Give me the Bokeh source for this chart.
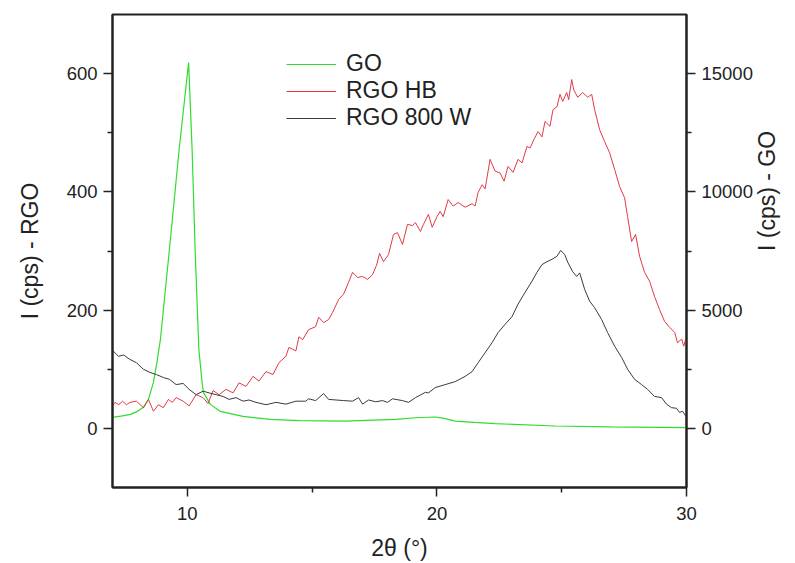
import math
from bokeh.plotting import figure
from bokeh.models import Range1d, LinearAxis, FixedTicker, Legend, LegendItem
from bokeh.embed import file_html
from bokeh.resources import INLINE

# ---------------- data ----------------
go_x = [7.0, 7.4, 7.72, 8.0, 8.24, 8.44, 8.64, 8.78, 8.92, 9.28, 9.67, 10.05, 10.19, 10.31,
        10.46, 10.59, 10.64, 10.92, 11.31, 12.23, 13.31, 14.5, 16.34, 18.34, 19.14, 19.93,
        20.3, 20.73, 21.5, 22.33, 24.72, 27.0, 30.0]
go_y = [465, 530, 590, 720, 890, 1225, 1945, 2790, 3760, 7565, 11790, 15470, 11790, 7565,
        3340, 1945, 1520, 1015, 720, 505, 380, 330, 310, 380, 450, 480,
        420, 310, 250, 200, 100, 60, 30]

hb_x = [7.0, 7.1, 7.25, 7.4, 7.56, 7.7, 7.96, 8.24, 8.44, 8.64, 8.84, 9.04, 9.24, 9.4, 9.55,
        9.83, 10.07, 10.35, 10.63, 10.83, 11.03, 11.27, 11.55, 11.83, 12.07, 12.35, 12.63,
        12.87, 13.15, 13.43, 13.67, 13.95, 14.07, 14.35, 14.47, 14.62, 14.86, 15.14, 15.26,
        15.46, 15.66, 15.82, 16.06, 16.26, 16.46, 16.62, 16.82, 17.02, 17.22, 17.42, 17.58,
        17.70, 17.86, 18.06, 18.26, 18.42, 18.62, 18.82, 19.02, 19.14, 19.34, 19.46, 19.66,
        19.81, 20.0, 20.13, 20.25, 20.45, 20.65, 20.85, 21.13, 21.41, 21.53, 21.65, 21.81,
        21.93, 22.13, 22.33, 22.53, 22.69, 22.85, 23.05, 23.25, 23.41, 23.61, 23.73, 23.89,
        24.05, 24.21, 24.33, 24.53, 24.65, 24.81, 24.93, 25.04, 25.20, 25.28, 25.40, 25.48,
        25.64, 25.84, 26.04, 26.20, 26.32, 26.52, 26.72, 26.92, 27.12, 27.32, 27.52, 27.64,
        27.80, 27.96, 28.12, 28.32, 28.52, 28.72, 28.92, 29.12, 29.32, 29.53, 29.64, 29.81,
        29.89, 30.0]
hb_y = [38, 44, 40, 46, 40, 44, 46, 35, 49, 29, 40, 35, 49, 44, 52,
        46, 38, 57, 52, 42, 64, 57, 66, 60, 77, 71, 88,
        80, 96, 91, 111, 122, 137, 131, 155, 150, 167, 172, 188,
        179, 184, 196, 218, 227, 247, 264, 255, 257, 252, 260, 276,
        296, 282, 294, 328, 331, 311, 345, 343, 348, 333, 345, 362,
        340, 358, 367, 358, 387, 376, 382, 374, 380, 376, 399, 412,
        405, 455, 435, 432, 418, 443, 433, 455, 449, 477, 474, 489,
        502, 493, 519, 511, 539, 544, 565, 553, 568, 556, 590, 573,
        560, 568, 560, 565, 539, 505, 485, 466, 438, 409, 390, 358,
        316, 328, 291, 264, 249, 223, 201, 181, 171, 162, 145, 151,
        139, 156]

w8_x = [7.0, 7.24, 7.45, 7.68, 7.96, 8.24, 8.48, 8.76, 9.04, 9.28, 9.55, 9.83, 10.07, 10.35,
        10.63, 10.87, 11.15, 11.43, 11.67, 11.95, 12.23, 12.47, 12.75, 13.15, 13.55, 13.95,
        14.35, 14.74, 14.86, 15.14, 15.46, 15.66, 16.26, 16.62, 16.86, 17.02, 17.26, 17.54,
        17.82, 18.02, 18.22, 18.62, 18.86, 19.14, 19.54, 19.66, 19.93, 20.33, 20.73, 21.13,
        21.41, 21.65, 21.93, 22.21, 22.45, 22.73, 23.01, 23.25, 23.53, 23.81, 24.01, 24.21,
        24.41, 24.61, 24.81, 24.96, 25.12, 25.24, 25.44, 25.60, 25.72, 25.92, 26.12, 26.32,
        26.60, 26.84, 27.12, 27.40, 27.64, 27.92, 28.20, 28.44, 28.72, 29.00, 29.20, 29.40,
        29.60, 29.72, 29.84, 30.0]
w8_y = [132, 122, 124, 117, 111, 100, 95, 91, 86, 83, 74, 76, 66, 57,
        63, 60, 57, 54, 49, 52, 46, 48, 44, 40, 44, 41,
        46, 46, 50, 47, 59, 49, 47, 46, 52, 41, 48, 45,
        47, 44, 50, 47, 44, 52, 61, 60, 69, 74, 79, 88,
        96, 111, 128, 145, 162, 176, 189, 210, 230, 249, 264, 277,
        282, 286, 291, 301, 294, 281, 265, 257, 263, 235, 215, 204,
        184, 162, 139, 120, 100, 83, 74, 66, 54, 52, 41, 35,
        34, 27, 29, 19]

x_ticks = [10, 20, 30]
x_minor = [15, 25]
left_ticks = [0, 200, 400, 600]
left_minor = [100, 300, 500]
right_ticks = [0, 5000, 10000, 15000]
right_minor = [2500, 7500, 12500]

FONT = "Liberation Sans"
AXC = "#222222"

p = figure(width=795, height=563, output_backend="svg", toolbar_location=None,
           x_range=Range1d(7, 30), y_range=Range1d(-100, 700))
p.min_border_left = 112
p.min_border_right = 102
p.min_border_top = 14
p.min_border_bottom = 75
p.xgrid.visible = False
p.ygrid.visible = False
p.outline_line_color = AXC
p.outline_line_width = 2
p.background_fill_color = "white"
p.border_fill_color = "white"

p.extra_y_ranges = {"go": Range1d(-2500, 17500)}
raxis = LinearAxis(y_range_name="go")
p.add_layout(raxis, "right")

r_go = p.line(go_x, go_y, y_range_name="go", line_color="#2fdc2f", line_width=1.2)
r_hb = p.line(hb_x, hb_y, line_color="#e23a45", line_width=1.0)
r_w8 = p.line(w8_x, w8_y, line_color="#3a3a3a", line_width=1.0)

for ax in [p.xaxis[0], p.yaxis[0], raxis]:
    ax.axis_line_width = 2
    ax.axis_line_color = AXC
    ax.major_tick_line_color = AXC
    ax.minor_tick_line_color = AXC
    ax.major_tick_line_width = 1.5
    ax.minor_tick_line_width = 1.5
    ax.major_tick_in = 0
    ax.major_tick_out = 9
    ax.minor_tick_in = 0
    ax.minor_tick_out = 5
    ax.major_label_text_font = FONT
    ax.major_label_text_font_size = "18.5px"
    ax.major_label_text_color = AXC
    ax.axis_label_text_font = FONT
    ax.axis_label_text_font_size = "23px"
    ax.axis_label_text_font_style = "normal"
    ax.axis_label_text_color = AXC
    ax.major_label_standoff = 6

p.xaxis[0].ticker = FixedTicker(ticks=x_ticks, minor_ticks=x_minor)
p.yaxis[0].ticker = FixedTicker(ticks=left_ticks, minor_ticks=left_minor)
raxis.ticker = FixedTicker(ticks=right_ticks, minor_ticks=right_minor)

p.xaxis[0].axis_label = "2θ (°)"
p.xaxis[0].major_label_standoff = 10
p.xaxis[0].axis_label_standoff = 12

p.yaxis[0].axis_label = "I (cps) - RGO"
p.yaxis[0].axis_label_standoff = 21
raxis.axis_label = "I (cps) - GO"
raxis.axis_label_standoff = 11
if "axis_label_orientation" in raxis.properties():
    raxis.axis_label_orientation = math.pi / 2

legend = Legend(items=[LegendItem(label="GO", renderers=[r_go]),
                       LegendItem(label="RGO HB", renderers=[r_hb]),
                       LegendItem(label="RGO 800 W", renderers=[r_w8])],
                location=(174, 356), orientation="vertical")
legend.background_fill_alpha = 0
legend.border_line_alpha = 0
legend.padding = 0
legend.margin = 0
legend.spacing = 0
legend.glyph_width = 50
legend.glyph_height = 20
legend.label_height = 20
legend.label_standoff = 10
legend.label_text_font = FONT
legend.label_text_font_size = "23px"
legend.label_text_color = AXC
p.add_layout(legend, "center")

open("out.html", "w").write(file_html(p, INLINE))
